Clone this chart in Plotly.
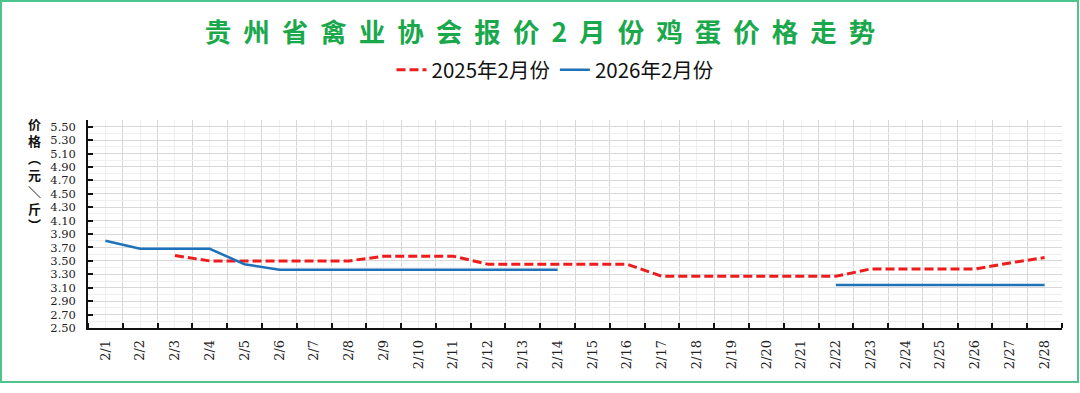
import plotly.graph_objects as go

dates = [f"2/{d}" for d in range(1, 29)]
price_2025 = [None, None, 3.58, 3.50, 3.50, 3.50, 3.50, 3.50, 3.57, 3.57, 3.57,
              3.45, 3.45, 3.45, 3.45, 3.45, 3.27, 3.27, 3.27, 3.27, 3.27, 3.27,
              3.38, 3.38, 3.38, 3.38, 3.47, 3.55]
price_2026 = [3.80, 3.68, 3.68, 3.68, 3.45, 3.37, 3.37, 3.37, 3.37, 3.37, 3.37,
              3.37, 3.37, 3.37, None, None, None, None, None, None, None,
              3.14, 3.14, 3.14, 3.14, 3.14, 3.14, 3.14]
series_names = ["2025年2月份", "2026年2月份"]
title_text = "贵州省禽业协会报价2月份鸡蛋价格走势"
y_title_chars = ["价", "格", "︵", "元", "＼", "斤", "︶"]

W, H = 1080, 393
ml, mr, mt, mb = 88, 18, 120, 65
pw, ph = W - ml - mr, H - mt - mb

xi = list(range(len(dates)))

fig = go.Figure()
fig.add_trace(go.Scatter(
    x=xi, y=price_2025, mode="lines", name=series_names[0],
    line=dict(color="#ee1c1c", width=3, dash="9px,4px")))
fig.add_trace(go.Scatter(
    x=xi, y=price_2026, mode="lines", name=series_names[1],
    line=dict(color="#1f72b8", width=2.5)))

fig.update_layout(
    width=W, height=H,
    margin=dict(l=ml, r=mr, t=mt, b=mb),
    paper_bgcolor="white", plot_bgcolor="white",
    title=dict(
        text="\u00a0\u00a0".join(title_text),
        x=0.5, xanchor="center", xref="container",
        y=1 - 33 / H, yanchor="middle",
        font=dict(family="Noto Sans CJK SC", size=26.5, color="#1ba84d", weight="bold"),
    ),
    legend=dict(
        orientation="h", x=(555 - ml) / pw, xanchor="center",
        y=1 + (mt - 70) / ph, yanchor="middle",
        font=dict(family="Noto Sans CJK SC", size=20.5, color="#111"),
        bgcolor="rgba(0,0,0,0)", itemwidth=30,
    ),
    showlegend=True,
)

fig.update_xaxes(
    range=[-0.5, len(dates) - 0.5],
    tickmode="array", tickvals=xi, ticktext=dates,
    tickangle=-90, ticks="",
    tickfont=dict(family="DejaVu Serif", size=13, color="#222"),
    ticklabelstandoff=5,
    showgrid=True, gridcolor="#efefef", gridwidth=1,
    minor=dict(tickmode="array", tickvals=[i - 0.5 for i in range(len(dates) + 1)],
               ticks="inside", ticklen=5, tickcolor="#111", tickwidth=1.5,
               showgrid=True, gridcolor="#d8d8d8", gridwidth=1),
    showline=True, linecolor="#111", linewidth=1.5,
    zeroline=False, fixedrange=True,
)

fig.update_yaxes(
    range=[2.5, 5.6],
    tickmode="linear", tick0=2.5, dtick=0.2, tickformat=".2f",
    ticks="inside", ticklen=5, tickcolor="#111", tickwidth=1.5,
    tickfont=dict(family="DejaVu Serif", size=11.5, color="#222"),
    ticklabelstandoff=8,
    showgrid=True, gridcolor="#d8d8d8", gridwidth=1,
    minor=dict(tickmode="linear", tick0=2.5, dtick=0.1, showgrid=True,
               gridcolor="#efefef", gridwidth=1),
    showline=True, linecolor="#111", linewidth=1.5,
    zeroline=False, fixedrange=True,
)

# vertical axis title: upright glyphs stacked one per line
fig.add_annotation(
    text="<br>".join(y_title_chars),
    xref="paper", yref="paper",
    x=(34 - ml) / pw, y=1 + (mt - 112) / ph,
    xanchor="center", yanchor="top", showarrow=False, align="center",
    font=dict(family="Noto Sans CJK SC", size=13, color="#111", weight="bold"),
)

fig.add_shape(
    type="rect", xref="paper", yref="paper",
    x0=(1 - ml) / pw, x1=(1078 - ml) / pw,
    y0=(mt + ph - 382) / ph, y1=(mt + ph - 1) / ph,
    line=dict(color="#4cc58c", width=2), fillcolor="rgba(0,0,0,0)", layer="below",
)

fig.write_html("out.html")
